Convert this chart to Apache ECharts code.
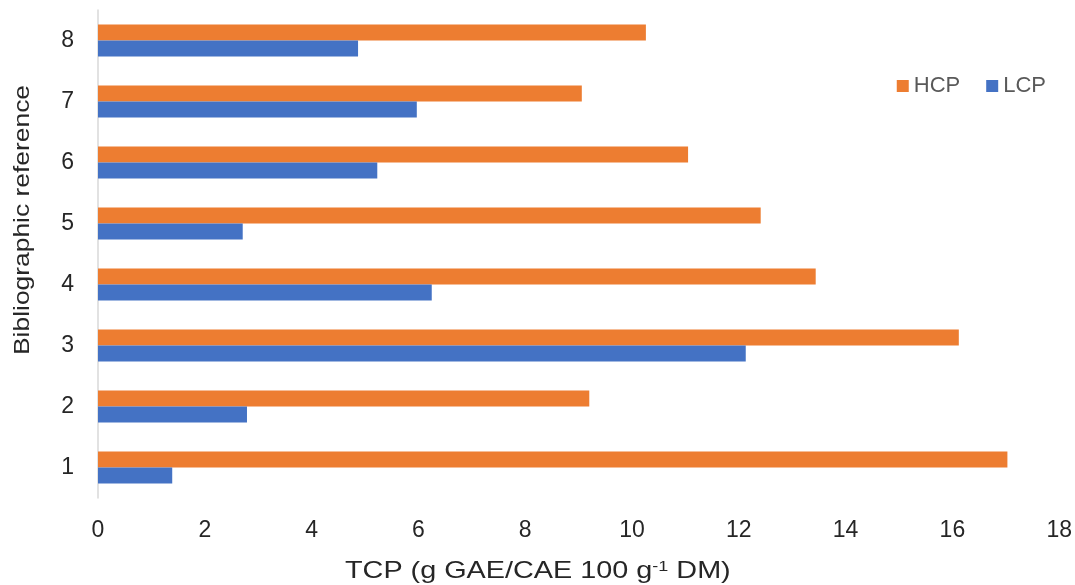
<!DOCTYPE html>
<html>
<head>
<meta charset="utf-8">
<script src="https://cdn.jsdelivr.net/npm/echarts@6/dist/echarts.min.js"></script>
<style>
html,body{margin:0;padding:0;background:#fff;}
#main{width:1075px;height:585px;}
</style>
</head>
<body>
<div id="main"></div>
<script>
// categories (bottom to top) and values
var refs = ['1', '2', '3', '4', '5', '6', '7', '8'];
var hcp = [17.03, 9.2, 16.12, 13.44, 12.41, 11.05, 9.06, 10.26];
var lcp = [1.39, 2.79, 12.13, 6.25, 2.71, 5.23, 5.97, 4.87];
var xTicks = [0, 2, 4, 6, 8, 10, 12, 14, 16, 18];

var myChart = echarts.init(document.getElementById('main'));
var font = '"Liberation Sans", Arial, sans-serif';

var option = {
    animation: false,
    textStyle: { fontFamily: font },
    grid: { left: 98, right: 14, top: 10, bottom: 87, containLabel: false },
    legend: {
        data: ['HCP', 'LCP'],
        right: 24,
        top: 70,
        itemWidth: 12,
        itemHeight: 12,
        itemGap: 26,
        icon: 'rect',
        textStyle: { fontSize: 22, color: '#595959', fontFamily: font }
    },
    xAxis: {
        type: 'value',
        min: xTicks[0],
        max: xTicks[xTicks.length - 1],
        interval: 2,
        axisLine: { show: false },
        axisTick: { show: false },
        splitLine: { show: false },
        axisLabel: { fontSize: 23, color: '#262626', margin: 21, fontFamily: font }
    },
    yAxis: {
        type: 'category',
        data: refs,
        axisLine: { show: true, lineStyle: { color: '#d9d9d9', width: 1.5 } },
        axisTick: { show: false },
        axisLabel: { fontSize: 23, color: '#262626', margin: 24, fontFamily: font }
    },
    series: [
        {
            name: 'HCP',
            type: 'bar',
            data: hcp,
            barWidth: 16,
            barGap: '0%',
            itemStyle: { color: '#ED7D31' }
        },
        {
            name: 'LCP',
            type: 'bar',
            data: lcp,
            barWidth: 16,
            barGap: '0%',
            itemStyle: { color: '#4472C4' }
        }
    ],
    graphic: [
        {
            type: 'text',
            x: 345,
            y: 559,
            scaleX: 1.2,
            style: {
                text: 'TCP (g GAE/CAE 100 g{sup|-1} DM)',
                fontSize: 24,
                fill: '#262626',
                fontFamily: font,
                align: 'left',
                verticalAlign: 'top',
                rich: {
                    sup: { fontSize: 15, verticalAlign: 'top', padding: [0, 0, 9, 0], fill: '#262626', fontFamily: font }
                }
            }
        },
        {
            type: 'text',
            x: 23,
            y: 220,
            rotation: Math.PI / 2,
            scaleX: 1.2,
            style: {
                text: 'Bibliographic reference',
                fontSize: 22,
                fill: '#262626',
                fontFamily: font,
                align: 'center',
                verticalAlign: 'middle'
            }
        }
    ]
};
myChart.setOption(option);
</script>
</body>
</html>
